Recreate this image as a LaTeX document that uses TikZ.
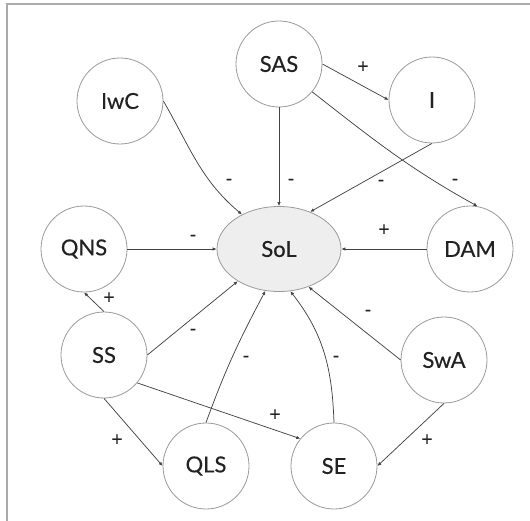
\documentclass[tikz,border=0pt]{standalone}
\usepackage{fontspec}
\setmainfont{Lato}
\newfontfamily\medfont{Lato}[FakeBold=0.35]
\usetikzlibrary{arrows.meta,shapes.geometric}
\definecolor{framegray}{HTML}{AAAAAA}
\definecolor{nodegray}{HTML}{9A9A9A}
\definecolor{edgegray}{HTML}{444444}
\definecolor{solfill}{HTML}{EEEEEE}
\definecolor{txt}{HTML}{222222}
\begin{document}
\begin{tikzpicture}[x=1pt,y=1pt,
  var/.style={circle,draw=nodegray,line width=0.8pt,minimum size=86pt,inner sep=0pt,font=\medfont\fontsize{22}{24}\selectfont,text=txt},
  core/.style={ellipse,draw=nodegray,fill=solfill,line width=0.8pt,minimum width=124pt,minimum height=85pt,inner sep=0pt,font=\medfont\fontsize{22}{24}\selectfont,text=txt},
  link/.style={draw=edgegray,line width=0.75pt,-{Latex[length=4pt,width=3.5pt]}},
  sign/.style={font=\medfont\fontsize{19}{21}\selectfont,text=txt,inner sep=0pt}]
\useasboundingbox (0,0) rectangle (530,-521);
\draw[framegray,line width=1.4pt] (7,-521) -- (7,-4) -- (530,-4);

\node[var]  (SAS) at (279,-64)  {SAS};
\node[var]  (IwC) at (120,-101) {IwC};
\node[var]  (I)   at (432,-100) {I};
\node[var]  (QNS) at (84,-249)  {QNS};
\node[core] (SoL) at (279,-249) {SoL};
\node[var]  (DAM) at (470,-249) {DAM};
\node[var]  (SS)  at (104,-355) {SS};
\node[var]  (SwA) at (444,-360) {SwA};
\node[var]  (QLS) at (206,-466) {QLS};
\node[var]  (SE)  at (334,-466) {SE};

\draw[link] (SAS.east) -- (I.west);
\draw[link] (SAS.south) -- (SoL.north);
\draw[link] (SAS.-40) to[out=-38,in=151] (DAM.80);
\draw[link] (I.south) -- (SoL.50);
\draw[link] (IwC.east) to[out=-60,in=140] (SoL.137);
\draw[link] (QNS.east) -- (SoL.west);
\draw[link] (DAM.west) -- (SoL.east);
\draw[link] (SS.north) -- (QNS.south);
\draw[link] (SS.east) -- (SoL.218);
\draw[link] (QLS.north) to[out=70,in=-118] (SoL.252);
\draw[link] (SE.north) to[out=92,in=-52] (SoL.285);
\draw[link] (SwA.west) -- (SoL.308);
\draw[link] (SS.-40) -- (SE.141);
\draw[link] (SS.south) -- (QLS.west);
\draw[link] (SwA.south) -- (SE.east);

\node[sign] (l1)  at (363,-67)  {+};
\node[sign] (l2)  at (291,-182) {-};
\node[sign] (l3)  at (229,-182) {-};
\node[sign] (l4)  at (381,-183) {-};
\node[sign] (l5)  at (455,-182) {-};
\node[sign] (l6)  at (193,-238) {-};
\node[sign] (l7)  at (384,-230) {+};
\node[sign] (l8)  at (109,-298) {+};
\node[sign] (l9)  at (193,-332) {-};
\node[sign] (l10) at (246,-359) {-};
\node[sign] (l11) at (336,-359) {-};
\node[sign] (l12) at (368,-313) {-};
\node[sign] (l13) at (275,-415) {+};
\node[sign] (l14) at (117,-440) {+};
\node[sign] (l15) at (427,-440) {+};
\end{tikzpicture}
\end{document}
